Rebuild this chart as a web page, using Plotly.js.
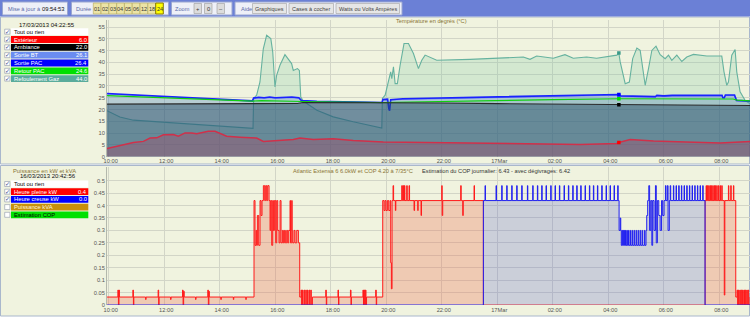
<!DOCTYPE html>
<html><head><meta charset="utf-8">
<script src="https://cdn.plot.ly/plotly-3.0.1.min.js"></script>
<style>html,body{margin:0;padding:0;background:#fff;overflow:hidden}#chart{width:750px;height:326px}</style>
</head><body><div id="chart"></div>
<script>
// ---------- DATA ----------
// time axis: hours since 16/03/2013 00:00 (values > 24 are on 17 March)
const hourTicks  = [10,12,14,16,18,20,22,24,26,28,30,32];
const hourLabels = ['10:00','12:00','14:00','16:00','18:00','20:00','22:00','17Mar','02:00','04:00','06:00','08:00'];
const tempTicks  = [0,5,10,15,20,25,30,35,40,45,50,55];
const tempTickLabels = ['0','5','10','15','20','25','30','35','40','45','50','55'];
const powerTicks = [0,0.05,0.1,0.15,0.2,0.25,0.3,0.35,0.4,0.45,0.5];
const powerTickLabels = ['0','0.05','0.1','0.15','0.2','0.25','0.3','0.35','0.4','0.45','0.5'];

// Refoulement Gaz
const refT = [9.94,10.4,10.89,12.09,13.29,14.49,15.20,15.22,15.33,15.45,15.57,15.69,15.84,15.91,15.99,16.05,16.17,16.35,16.47,16.59,16.65,16.80,16.87,16.92,17.02,17.50,18.09,18.81,19.84,19.86,19.96,20.08,20.16,20.20,20.26,20.32,20.40,20.50,20.64,20.80,20.98,21.16,21.28,21.40,21.82,23.02,24.22,24.94,25.18,25.42,26.02,26.44,26.74,27.22,27.58,28.31,28.38,28.43,28.61,28.76,28.88,29.03,29.15,29.24,29.33,29.45,29.57,29.72,29.87,30.05,30.17,30.29,30.47,30.65,30.83,31.07,31.55,32.09,32.17,32.27,32.33,32.45,32.57,32.63,32.75,32.93,33.11];
const refV = [19.5,16.8,15.5,14.5,13.7,12.7,12.0,24.7,26.1,31.7,45.8,51.5,50.1,44.4,29.6,34.5,38.8,43.3,41.6,39.5,36.6,37.4,36.6,25.3,23.5,19.7,16.9,14.8,12.2,24.7,26.1,31.7,36.0,33.1,38.1,31.0,31.0,38.8,48.0,48.0,43.8,37.4,40.9,43.1,40.9,41.3,42.0,42.3,41.3,42.7,41.8,43.3,41.8,42.3,41.8,43.1,44.0,40.2,31.0,31.7,41.6,46.1,45.1,37.4,30.3,37.4,45.1,46.9,43.3,41.6,43.1,40.9,43.1,40.4,42.3,43.4,42.7,42.7,36.0,30.3,31.7,43.1,45.5,36.0,27.5,23.9,22.5];
// Sortie PAC / Sortie BT (same sample times)
const loopT = [9.94,12.0,14.0,15.18,15.22,15.4,15.6,15.8,16.0,16.2,16.4,16.6,16.85,16.95,17.5,18.5,19.85,19.88,20.05,20.09,20.12,20.16,20.6,21.5,23.0,25.0,27.0,28.38,28.45,29.0,29.5,29.7,29.75,30.0,30.3,31.0,32.1,32.13,32.18,32.22,32.55,32.62,33.11];
const pacV  = [26.8,25.7,24.6,23.7,24.9,25.2,25.0,25.3,25.0,25.2,25.1,25.3,25.0,23.8,23.5,23.2,23.0,24.3,24.4,20.5,19.5,24.2,24.6,24.8,25.1,25.6,26.0,26.4,25.8,25.7,25.8,25.5,26.0,25.8,26.0,26.1,26.1,25.0,25.0,26.2,26.2,23.9,23.6];
const btV   = [26.6,25.5,24.4,23.6,24.6,24.9,24.8,25.0,24.8,24.9,24.8,25.0,24.8,23.7,23.4,23.1,23.0,24.0,24.1,21.0,20.5,24.0,24.3,24.5,24.8,25.3,25.7,26.1,25.5,25.4,25.5,25.3,25.7,25.5,25.7,25.8,25.8,24.8,24.8,25.9,25.9,23.8,23.5];
// Retour PAC
const retT = [9.94,12.0,14.0,15.18,15.5,16.85,17.0,19.85,20.5,22.0,24.0,26.0,28.38,30.0,32.5,32.65,33.11];
const retV = [25.9,25.0,24.2,23.6,23.8,23.7,23.4,23.0,23.1,23.4,23.8,24.2,24.6,24.6,24.5,24.0,23.7];
// Ambiance
const ambT = [9.94,12.0,14.0,16.8,17.0,20.0,22.0,24.0,26.0,28.38,30.0,33.11];
const ambV = [22.3,22.4,22.5,22.6,23.0,23.0,22.8,22.5,22.3,22.0,21.9,21.7];
// Extérieur
const extT = [9.94,10.89,11.25,11.49,11.73,11.97,12.33,12.51,12.75,12.99,13.17,13.41,13.59,13.83,14.25,14.73,15.33,15.57,16.05,16.65,16.89,17.37,18.09,18.81,19.89,21.58,23.5,25.5,27.0,28.3,28.38,28.79,29.63,30.8,32.03,33.11];
const extV = [3.5,6.0,6.5,7.9,8.0,9.3,9.4,8.7,10.1,10.1,9.7,10.4,10.8,10.8,8.7,8.3,7.9,6.5,6.9,7.3,7.9,7.3,7.6,6.9,6.2,5.9,5.7,5.5,5.2,5.6,6.0,7.3,6.7,6.2,5.8,6.5];

// Heure pleine kW : [time, kW] steps
const hpSteps = [[9.94,0.032],[10.33,0.06],[10.35,0],[10.37,0.06],[10.385,0.032],[10.87,0.06],[10.89,0],[10.905,0.032],[11.33,0.022],[11.345,0.032],[11.78,0.06],[11.80,0],[11.815,0.032],[12.23,0.022],[12.245,0.032],[12.66,0.06],[12.68,0],[12.70,0.055],[12.72,0.032],[13.13,0.022],[13.145,0.032],[13.57,0.06],[13.59,0],[13.61,0.055],[13.625,0.032],[14.04,0.022],[14.055,0.032],[14.49,0.022],[14.505,0.032],[14.94,0.022],[14.955,0.032],
[15.236,0.42],[15.272,0.24],[15.308,0.30],[15.332,0.24],[15.356,0.36],[15.404,0.24],[15.452,0.42],[15.488,0.36],[15.524,0.42],[15.572,0.48],[15.620,0.42],[15.656,0.48],[15.692,0.42],[15.728,0.48],[15.777,0.42],[15.813,0.30],[15.837,0.42],[15.873,0.24],[15.909,0.42],[15.933,0.30],[15.969,0.42],[16.017,0.25],[16.053,0.42],[16.089,0.30],[16.137,0.25],[16.173,0.42],[16.209,0.25],[16.257,0.30],[16.293,0.25],[16.329,0.30],[16.365,0.25],[16.413,0.30],[16.449,0.25],[16.485,0.30],[16.533,0.42],[16.55,0.25],[16.593,0.42],[16.61,0.30],[16.629,0.25],[16.678,0.30],[16.714,0.25],[16.774,0.30],[16.834,0.25],
[16.882,0.032],[16.93,0.06],[16.95,0],[16.98,0.06],[17.00,0],[17.04,0.06],[17.06,0],[17.10,0.06],[17.12,0],[17.16,0.06],[17.18,0],[17.22,0.06],[17.24,0],[17.28,0.06],[17.30,0],[17.34,0.032],[17.82,0.06],[17.84,0],[17.855,0.032],[18.26,0.06],[18.28,0],[18.295,0.032],[18.71,0.06],[18.73,0],[18.745,0.032],[19.16,0.06],[19.18,0],[19.20,0.06],[19.22,0],[19.25,0.06],[19.27,0],[19.29,0.032],[19.62,0.06],[19.64,0],[19.655,0.032],
[19.873,0.42],[19.921,0.38],[19.957,0.42],[19.993,0.38],[20.041,0.42],[20.089,0.38],[20.137,0.42],[20.161,0.17],[20.185,0.065],[20.209,0.42],[20.245,0.48],[20.265,0.42],[20.329,0.38],[20.345,0.42],[20.558,0.48],[20.582,0.42],[20.618,0.48],[20.636,0.42],[20.654,0.48],[20.672,0.42],[20.738,0.48],[20.756,0.42],[20.822,0.48],[20.84,0.42],[21.002,0.38],[21.02,0.42],[21.134,0.38],[21.15,0.42],[21.254,0.36],[21.27,0.42],[22.0,0.48],[22.015,0.36],[22.035,0.42],[22.683,0.48],[22.70,0.42],[22.756,0.36],[22.775,0.42],[23.164,0.48],[23.18,0.42],[23.50,0],
[31.488,0.42],[31.524,0.48],[31.54,0.42],[31.572,0.48],[31.59,0.42],[31.620,0.48],[31.635,0.42],[31.668,0.48],[31.685,0.42],[31.716,0.48],[31.73,0.42],[31.765,0.48],[31.78,0.42],[31.813,0.48],[31.83,0.42],[31.861,0.48],[31.875,0.42],[31.909,0.48],[31.925,0.42],[31.969,0.48],[31.985,0.42],[32.029,0.48],[32.045,0.42],[32.089,0.48],[32.105,0.42],[32.18,0.04],[32.20,0.42],[32.329,0.48],[32.345,0.42],[32.413,0.48],[32.43,0.42],[32.509,0.48],[32.525,0.42],
[32.594,0.032],[32.64,0.06],[32.66,0],[32.69,0.06],[32.71,0],[32.74,0.06],[32.76,0],[32.79,0.06],[32.81,0],[32.84,0.06],[32.86,0],[32.89,0.06],[32.91,0],[32.94,0.06],[32.96,0],[32.99,0.06],[33.01,0],[33.04,0.06],[33.06,0],[33.11,0.032]];
// Heure creuse kW : [time, kW] steps
const hcSteps = [[9.94,0],[23.50,0.42],
[23.56,0.48],[23.575,0.42],[23.957,0.48],[23.972,0.42],[24.161,0.48],[24.176,0.42],[24.341,0.48],[24.356,0.42],[24.521,0.48],[24.536,0.42],[24.701,0.48],[24.716,0.42],[24.882,0.48],[24.897,0.42],[25.086,0.48],[25.101,0.42],[25.278,0.48],[25.293,0.42],[25.446,0.48],[25.461,0.42],[25.602,0.48],[25.617,0.42],[25.758,0.48],[25.773,0.42],[25.927,0.48],[25.942,0.42],[26.083,0.48],[26.098,0.42],[26.239,0.48],[26.254,0.42],[26.407,0.48],[26.422,0.42],[26.563,0.48],[26.578,0.42],[26.720,0.48],[26.735,0.42],[26.864,0.48],[26.879,0.42],[27.008,0.48],[27.023,0.42],[27.164,0.48],[27.179,0.42],[27.320,0.48],[27.335,0.42],[27.464,0.48],[27.479,0.42],[27.609,0.48],[27.624,0.42],[27.765,0.48],[27.780,0.42],[27.921,0.48],[27.936,0.42],[28.065,0.48],[28.080,0.42],[28.209,0.48],[28.224,0.42],[28.341,0.48],[28.356,0.42],
[28.39,0.30],[28.43,0.35],[28.45,0.30],[28.47,0.24],[28.50,0.30],[28.52,0.24],[28.54,0.30],[28.56,0.24],[28.58,0.30],[28.60,0.24],[28.62,0.30],[28.64,0.24],[28.67,0.30],[28.69,0.24],[28.73,0.30],[28.75,0.24],[28.80,0.30],[28.82,0.24],[28.87,0.30],[28.89,0.24],[28.94,0.30],[28.96,0.24],[29.01,0.30],[29.03,0.24],[29.08,0.30],[29.10,0.24],[29.15,0.30],[29.17,0.24],[29.22,0.30],[29.24,0.24],[29.30,0.30],[29.32,0.24],[29.36,0.30],
[29.386,0.36],[29.42,0.42],[29.46,0.48],[29.49,0.30],[29.53,0.42],[29.57,0.24],[29.60,0.42],[29.65,0.30],[29.70,0.48],[29.73,0.25],[29.77,0.42],[29.82,0.36],[29.87,0.30],[29.92,0.42],[29.96,0.36],[30.01,0.42],[30.06,0.48],[30.08,0.42],[30.13,0.48],[30.155,0.30],[30.20,0.42],[30.23,0.48],[30.25,0.42],
[30.347,0.48],[30.362,0.42],[30.443,0.48],[30.458,0.42],[30.539,0.48],[30.554,0.42],[30.635,0.48],[30.650,0.42],[30.732,0.48],[30.747,0.42],[30.828,0.48],[30.843,0.42],[30.924,0.48],[30.939,0.42],[31.020,0.48],[31.035,0.42],[31.116,0.48],[31.131,0.42],[31.212,0.48],[31.227,0.42],[31.308,0.48],[31.323,0.42],[31.404,0.48],[31.419,0.42],[31.488,0],[33.11,0]];

// legends / cursors
const tempCursorTime = 28.382;            // 17/03/2013 04:22:55
const tempCursorLabel = '17/03/2013 04:22:55';
const tempNames  = ['Extérieur','Ambiance','Sortie BT','Sortie PAC','Retour PAC','Refoulement Gaz'];
const tempCursor = [6.0,22.0,26.1,26.4,24.6,44.0];
const powerCursorLabel = '16/03/2013 20:42:56';
const powerNames  = ['Heure pleine kW','Heure creuse kW','Puissance kVA','Estimation COP'];
const powerCursor = [0.4,0.0,null,null];
const powerShown  = [true,true,false,false];
const toolbarDurations = ['01','02','03','04','05','06','12','18','24'];
const activeDuration = '24';
const updateTime = '09:54:53';

// ---------- STYLE ----------
const W=750,H=326;
const FONT='Liberation Sans, Arial, sans-serif';
const CREAM='#f0f3df', GRID='#d2d5c7', OLIVE='#8a7434';
const tempBarColors=['#ff0000','#000000','#6a8cf0','#0000ff','#00e000','#5aab9b'];
const powerBarColors=['#ff0000','#0000ff','#c8900a','#00e000'];
const powerTextColors=['#ffffff','#ffffff','#fff4dc','#000000'];
const X=p=>p/W, Y=p=>1-p/H;
const shapes=[], annotations=[];
function box(x0,y0,x1,y1,fill,line,lw,layer){shapes.push({type:'rect',xref:'paper',yref:'paper',x0:X(x0),x1:X(x1),y0:Y(y1),y1:Y(y0),fillcolor:fill,line:{color:line||fill,width:lw||0},layer:layer||'above'});}
function label(x,y,text,color,size,anchor){annotations.push({xref:'paper',yref:'paper',x:X(x),y:Y(y),text:text,showarrow:false,xanchor:anchor||'left',yanchor:'middle',borderpad:0,font:{family:FONT,size:size||5.8,color:color||'#333'}});}

// panels
box(0,0,750,16.5,'#6b80d6');
box(0.5,17,749.5,164,CREAM,'#a9b7cc',1,'below');
box(0.5,165.5,749.5,316,CREAM,'#a9b7cc',1,'below');

// toolbar
box(2.5,2,67.5,15,'#eef0f8','#9aa6d0',1);
label(6.5,8.7,'Mise à jour à','#5a6aa8',5.6);
label(41,8.7,updateTime,'#111',5.8);
box(71.5,2,168.5,15,'#eef0f8','#9aa6d0',1);
label(75,8.7,'Durée','#5a6aa8',5.6);
toolbarDurations.forEach((d,i)=>{const x0=93.3+i*7.8;const on=d===activeDuration;
  box(x0,3,x0+7.6,14,on?'#ffff00':'#ece4a6',on?'#8a7a00':'#b4a85a',on?1:0.6);
  label(x0+3.8,8.7,d,'#333',5.5,'center');});
box(171.5,2,232,15,'#eef0f8','#9aa6d0',1);
label(174,8.7,'Zoom','#5a6aa8',5.6);
[['+',194],['0',204.5],['–',217]].forEach(b=>{box(b[1],3.5,b[1]+7.5,13.5,'#dcdcdc','#9a9a9a',0.6);label(b[1]+3.75,8.7,b[0],'#333',5.8,'center');});
box(235,2,402,15,'#eef0f8','#9aa6d0',1);
label(239.5,8.7,'Aide','#5a6aa8',5.6);
[['Graphiques',252.5,286.5],['Cases à cocher',289,333.5],['Watts ou Volts Ampères',336,399.5]].forEach(b=>{box(b[1],3.5,b[2],13.5,'#e6e6e6','#a0a0a0',0.6);label((b[1]+b[2])/2,8.7,b[0],'#444',5.5,'center');});

// legends
function legendBlock(y0,pitch,names,barColors,textColors,values,shown){
  const rows=[{n:'Tout ou rien',c:'#ffffff',t:'#000',v:null,s:true}].concat(names.map((n,i)=>({n:n,c:barColors[i],t:textColors[i],v:values[i],s:shown[i]})));
  rows.forEach((r,i)=>{const top=y0+i*pitch,bot=top+6.8,mid=(top+bot)/2;
    box(4.7,top+0.9,9.9,bot-0.9,'#ffffff','#8c96a8',0.6);
    if(r.s) label(7.3,mid,'✓','#3a4a8a',5.5,'center');
    box(11,top,88.3,bot,r.c);
    label(13.3,mid,r.n,r.t,5.8,'left');
    if(r.v!==null&&r.v!==undefined) label(88,mid,r.v.toFixed(1),r.t,5.8,'right');
  });
}
label(47,25,tempCursorLabel,'#111',6,'center');
legendBlock(28.3,7.82,tempNames,tempBarColors,tempNames.map(()=>'#ffffff'),tempCursor,tempNames.map(()=>true));
label(44,170.7,'Puissance en kW et kVA',OLIVE,5.8,'center');
label(47.5,175.9,powerCursorLabel,'#111',6,'center');
legendBlock(180.6,7.7,powerNames,powerBarColors,powerTextColors,powerCursor,powerShown);

// plot titles
label(432,20.8,'Température en degrés (°C)',OLIVE,5.7,'center');
label(414,171.2,'Atlantic Extensa 6 6.0kW et COP 4.20 à 7/35°C',OLIVE,5.7,'right');
label(421,171.2,'Estimation du COP journalier: 6.43 - avec dégivrages: 6.42','#333',5.7,'left');

// ---------- TRACES ----------
const traces=[];
function series(xs,ys,xa,ya,color,width,fillcolor,shape){traces.push({type:'scatter',mode:'lines',x:xs,y:ys,xaxis:xa,yaxis:ya,line:{color:color,width:width,shape:shape||'linear'},fill:'tozeroy',fillcolor:fillcolor,hoverinfo:'skip'});}
series(refT,refV,'x','y','#66b29f',1.1,'rgba(120,195,165,0.24)');
series(loopT,btV,'x','y','#6f90ee',1,'rgba(100,140,230,0.14)');
series(loopT,pacV,'x','y','#1a22ff',1.6,'rgba(60,90,230,0.15)');
series(retT,retV,'x','y','#10d010',1.1,'rgba(40,180,60,0.08)');
series(ambT,ambV,'x','y','#2a2a2a',1.1,'rgba(30,70,95,0.46)');
series(extT,extV,'x','y','#d0304a',1.5,'rgba(175,65,95,0.33)');
traces.push({type:'scatter',mode:'markers',x:tempCursor.map(()=>tempCursorTime),y:tempCursor,xaxis:'x',yaxis:'y',marker:{symbol:'square',size:3.5,color:['#ff0000','#000000','#3050ff','#0000ff','#00e000','#3a9a88']},hoverinfo:'skip'});
series(hpSteps.map(p=>p[0]),hpSteps.map(p=>p[1]),'x2','y2','#ff1a1a',1,'rgba(240,110,80,0.3)','hv');
series(hcSteps.map(p=>p[0]),hcSteps.map(p=>p[1]),'x2','y2','#2020f0',1,'rgba(90,100,200,0.25)','hv');

const xCommon={domain:[107/750,1],range:[9.938,33.107],tickvals:hourTicks,ticktext:hourLabels,showgrid:true,gridcolor:GRID,gridwidth:1,zeroline:false,showline:false,ticks:'',tickfont:{family:FONT,size:5.7,color:'#555'},ticklabelshift:2,fixedrange:true};
const yCommon={showgrid:true,gridcolor:GRID,gridwidth:1,zeroline:false,showline:true,linecolor:'#b4b8ac',linewidth:1,ticks:'',tickfont:{family:FONT,size:5.7,color:'#555'},fixedrange:true};
const layout={width:W,height:H,margin:{l:0,r:0,t:0,b:0},paper_bgcolor:'#ffffff',plot_bgcolor:CREAM,showlegend:false,
  font:{family:FONT,size:6,color:'#555'},
  xaxis:Object.assign({},xCommon,{anchor:'y'}),
  yaxis:Object.assign({},yCommon,{anchor:'x',domain:[Y(156.7),Y(20)],range:[0,58],tickvals:tempTicks,ticktext:tempTickLabels}),
  xaxis2:Object.assign({},xCommon,{anchor:'y2'}),
  yaxis2:Object.assign({},yCommon,{anchor:'x2',domain:[Y(305),Y(167)],range:[0,0.555],tickvals:powerTicks,ticktext:powerTickLabels}),
  shapes:shapes,annotations:annotations};
Plotly.newPlot('chart',traces,layout,{staticPlot:true,displayModeBar:false});
</script></body></html>
